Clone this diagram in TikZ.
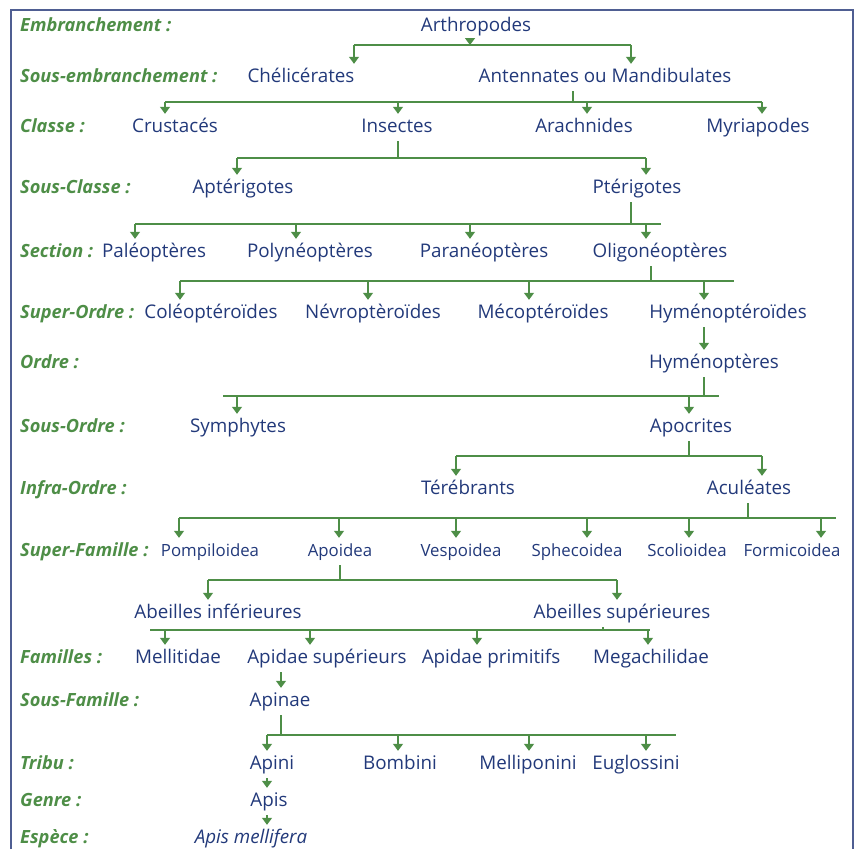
\documentclass[tikz,border=0pt]{standalone}
\usepackage{fontspec}
\setmainfont{Open Sans}
\usepackage{xcolor}
\usepackage{tikz}
\usetikzlibrary{arrows.meta,positioning}
\definecolor{vert}{HTML}{4E8E47}
\definecolor{bleu}{HTML}{22397A}
\definecolor{cadre}{HTML}{4F5E92}

\begin{document}
\begin{tikzpicture}[x=1pt,y=-1pt]
			\tikzstyle{taxon}=[anchor=base, text=bleu, font=\fontsize{18.8}{22}\selectfont, inner xsep=0pt, inner ysep=5pt, text height=13pt, text depth=4pt]
			\tikzstyle{petit}=[taxon, font=\fontsize{16.8}{20}\selectfont]
			\tikzstyle{rang}=[anchor=base west, text=vert, font=\fontsize{18.2}{22}\selectfont\bfseries\itshape, inner sep=0pt]
			\tikzstyle{trait}=[draw=vert, line width=1.4pt]
			\tikzstyle{fl}=[trait, -{Triangle[width=10pt,length=7pt]}]
			\useasboundingbox (0,0) rectangle (858,849);
			\draw[cadre, line width=1.8pt] (11,849) -- (11,10) -- (853,10) -- (853,849);
			% rangs
			\node[rang] (r1) at (20,31) {Embranchement :};
			\node[rang] (r2) at (20,82) {Sous-embranchement :};
			\node[rang] (r3) at (20,132) {Classe :};
			\node[rang] (r4) at (20,193) {Sous-Classe :};
			\node[rang] (r5) at (20,257) {Section :};
			\node[rang] (r6) at (20,318) {Super-Ordre :};
			\node[rang] (r7) at (20,368) {Ordre :};
			\node[rang] (r8) at (20,432) {Sous-Ordre :};
			\node[rang] (r9) at (20,494) {Infra-Ordre :};
			\node[rang] (r10) at (20,556) {Super-Famille :};
			\node[rang] (r11) at (20,663) {Familles :};
			\node[rang] (r12) at (20,706) {Sous-Famille :};
			\node[rang] (r13) at (20,769) {Tribu :};
			\node[rang] (r14) at (20,806) {Genre :};
			\node[rang] (r15) at (20,843) {Espèce :};
			% taxons
			\node[taxon] (arth) at (476,31) {Arthropodes};
			\node[taxon] (chel) at (301,82) {Chélicérates};
			\node[taxon] (ant) at (605,82) {Antennates ou Mandibulates};
			\node[taxon] (crus) at (175,132) {Crustacés};
			\node[taxon] (ins) at (397,132) {Insectes};
			\node[taxon] (arach) at (584,132) {Arachnides};
			\node[taxon] (myr) at (758,132) {Myriapodes};
			\node[taxon] (apte) at (243,193) {Aptérigotes};
			\node[taxon] (pteri) at (637,193) {Ptérigotes};
			\node[taxon] (paleo) at (154,257) {Paléoptères};
			\node[taxon] (polyn) at (310,257) {Polynéoptères};
			\node[taxon] (paran) at (484,257) {Paranéoptères};
			\node[taxon] (oligo) at (660,257) {Oligonéoptères};
			\node[taxon] (coleo) at (211,318) {Coléoptéroïdes};
			\node[taxon] (nevro) at (373,318) {Névroptèroïdes};
			\node[taxon] (meco) at (543,318) {Mécoptéroïdes};
			\node[taxon] (hymd) at (728,318) {Hyménoptéroïdes};
			\node[taxon] (hymo) at (714,368) {Hyménoptères};
			\node[taxon] (symph) at (238,432) {Symphytes};
			\node[taxon] (apoc) at (691,432) {Apocrites};
			\node[taxon] (tere) at (468,494) {Térébrants};
			\node[taxon] (acul) at (749,494) {Aculéates};
			\node[petit] (pomp) at (210,556) {Pompiloidea};
			\node[petit] (apoi) at (340,556) {Apoidea};
			\node[petit] (vesp) at (461,556) {Vespoidea};
			\node[petit] (sphe) at (577,556) {Sphecoidea};
			\node[petit] (scol) at (687,556) {Scolioidea};
			\node[petit] (form) at (792,556) {Formicoidea};
			\node[taxon] (abinf) at (218,618) {Abeilles inférieures};
			\node[taxon] (absup) at (622,618) {Abeilles supérieures};
			\node[taxon] (mell) at (178,663) {Mellitidae};
			\node[taxon] (apsup) at (327,663) {Apidae supérieurs};
			\node[taxon] (apprim) at (491,663) {Apidae primitifs};
			\node[taxon] (mega) at (651,663) {Megachilidae};
			\node[taxon] (apinae) at (280,706) {Apinae};
			\node[taxon] (apini) at (272,769) {Apini};
			\node[taxon] (bomb) at (400,769) {Bombini};
			\node[taxon] (melip) at (528,769) {Melliponini};
			\node[taxon] (eugl) at (636,769) {Euglossini};
			\node[taxon] (apis) at (269,806) {Apis};
			\node[taxon, font=\fontsize{18.8}{22}\selectfont\itshape] (mellif) at (251,843) {Apis mellifera};
			% liaisons
			\draw[fl] (arth.south -| 470,0) -- (470,45);
			\draw[trait] (354,45) -- (631,45);
			\foreach \x/\n in {354/chel,631/ant} \draw[fl] (\x,45) -- (\n.north -| \x,0);
			\draw[trait] (ant.south -| 573,0) -- (573,102);
			\draw[trait] (165,102) -- (762,102);
			\foreach \x/\n in {165/crus,398/ins,587/arach,762/myr} \draw[fl] (\x,102) -- (\n.north -| \x,0);
			\draw[trait] (ins.south -| 398,0) -- (398,158);
			\draw[trait] (237,158) -- (646,158);
			\foreach \x/\n in {237/apte,646/pteri} \draw[fl] (\x,158) -- (\n.north -| \x,0);
			\draw[trait] (pteri.south -| 631,0) -- (631,224);
			\draw[trait] (135,224) -- (661,224);
			\foreach \x/\n in {135/paleo,296/polyn,470/paran,646/oligo} \draw[fl] (\x,224) -- (\n.north -| \x,0);
			\draw[trait] (oligo.south -| 651,0) -- (651,281);
			\draw[trait] (180,281) -- (734,281);
			\foreach \x/\n in {180/coleo,368/nevro,529/meco,704/hymd} \draw[fl] (\x,281) -- (\n.north -| \x,0);
			\draw[fl] (hymd.south -| 704,0) -- (hymo.north -| 704,0);
			\draw[trait] (hymo.south -| 704,0) -- (704,396);
			\draw[trait] (223,396) -- (719,396);
			\foreach \x/\n in {237/symph,689/apoc} \draw[fl] (\x,396) -- (\n.north -| \x,0);
			\draw[trait] (apoc.south -| 689,0) -- (689,456);
			\draw[trait] (456,456) -- (762,456);
			\foreach \x/\n in {456/tere,762/acul} \draw[fl] (\x,456) -- (\n.north -| \x,0);
			\draw[trait] (acul.south -| 748,0) -- (748,518);
			\draw[trait] (179,518) -- (836,518);
			\foreach \x/\n in {179/pomp,339/apoi,456/vesp,587/sphe,689/scol,821/form} \draw[fl] (\x,518) -- (\n.north -| \x,0);
			\draw[trait] (apoi.south -| 340,0) -- (340,580);
			\draw[trait] (208,580) -- (617,580);
			\foreach \x/\n in {208/abinf,617/absup} \draw[fl] (\x,580) -- (\n.north -| \x,0);
			\draw[trait] (absup.south -| 603,0) -- (603,630);
			\draw[trait] (150,630) -- (650,630);
			\foreach \x/\n in {165/mell,310/apsup,477/apprim,648/mega} \draw[fl] (\x,630) -- (\n.north -| \x,0);
			\draw[fl] (apsup.south -| 281,0) -- (apinae.north -| 281,0);
			\draw[trait] (apinae.south -| 281,0) -- (281,735);
			\draw[trait] (267,735) -- (676,735);
			\foreach \x/\n in {267/apini,398/bomb,529/melip,646/eugl} \draw[fl] (\x,735) -- (\n.north -| \x,0);
			\draw[fl] (apini.south -| 267,0) -- (apis.north -| 267,0);
			\draw[fl] (apis.south -| 267,0) -- (mellif.north -| 267,0);
		\end{tikzpicture}
\end{document}
